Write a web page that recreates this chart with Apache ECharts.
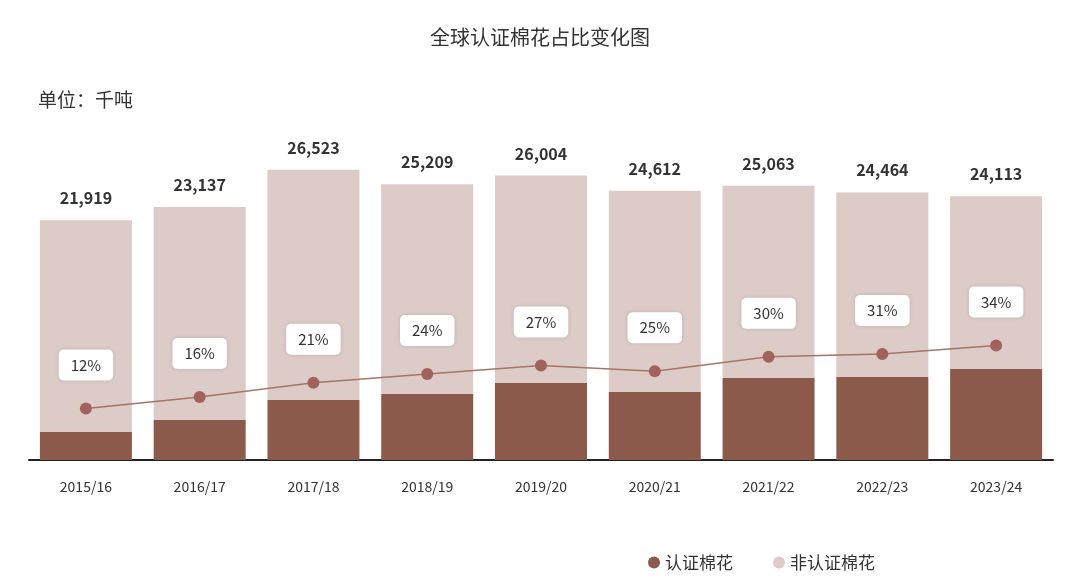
<!DOCTYPE html>
<html>
<head>
<meta charset="utf-8">
<script src="https://cdn.jsdelivr.net/npm/echarts@6/dist/echarts.min.js"></script>
<style>html,body{margin:0;padding:0;background:#fff;}#main{width:1080px;height:582px;}</style>
</head>
<body>
<div id="main"></div>
<script>
var years = ['2015/16', '2016/17', '2017/18', '2018/19', '2019/20', '2020/21', '2021/22', '2022/23', '2023/24'];
var totals = [21919, 23137, 26523, 25209, 26004, 24612, 25063, 24464, 24113];
var certified = [2560, 3650, 5480, 6030, 7030, 6210, 7490, 7580, 8310];
var shares = [12, 16, 21, 24, 27, 25, 30, 31, 34];
var nonCertified = totals.map(function (t, i) { return t - certified[i]; });

var chart = echarts.init(document.getElementById('main'));
chart.setOption({
    animation: false,
    textStyle: { fontFamily: 'Noto Sans CJK SC' },
    title: {
        text: '全球认证棉花占比变化图',
        left: 'center', top: 22,
        textStyle: { fontSize: 20, fontWeight: 'normal', color: '#333' }
    },
    graphic: [{
        type: 'text', left: 38, top: 90,
        style: { text: '单位：千吨', fontSize: 19, fill: '#333', fontFamily: 'Noto Sans CJK SC' }
    }],
    legend: {
        right: 200, bottom: 6, itemGap: 40,
        icon: 'circle', itemWidth: 12, itemHeight: 12,
        data: ['认证棉花', '非认证棉花'],
        textStyle: { fontSize: 17, color: '#333' }
    },
    grid: { left: 29, right: 27, top: 99, bottom: 122 },
    xAxis: {
        type: 'category', data: years,
        axisTick: { show: false },
        axisLine: { lineStyle: { color: '#222', width: 2 } },
        axisLabel: { fontSize: 14, color: '#333', margin: 20 }
    },
    yAxis: [
        { type: 'value', min: 0, max: 33000, show: false },
        { type: 'value', min: -6, max: 120, show: false }
    ],
    series: [
        {
            name: '认证棉花', type: 'bar', stack: 'c', barWidth: 92,
            itemStyle: { color: '#8c5a4b' },
            data: certified
        },
        {
            name: '非认证棉花', type: 'bar', stack: 'c', barWidth: 92,
            itemStyle: { color: '#dccbc6' },
            label: {
                show: true, position: 'top', distance: 14,
                fontSize: 16, fontWeight: 'bold', color: '#333',
                formatter: function (p) { return totals[p.dataIndex].toLocaleString('en-US'); }
            },
            data: nonCertified
        },
        {
            name: '占比', type: 'line', yAxisIndex: 1,
            symbol: 'circle', symbolSize: 12,
            lineStyle: { color: '#a57566', width: 1.5 },
            itemStyle: { color: '#a0625a' },
            label: {
                show: true, position: 'top', distance: 22,
                formatter: '{c}%', fontSize: 15, color: '#333',
                backgroundColor: '#fff', borderRadius: 5,
                padding: [8, 12],
                shadowColor: 'rgba(0,0,0,0.12)', shadowBlur: 4
            },
            data: shares
        }
    ]
});
</script>
</body>
</html>
